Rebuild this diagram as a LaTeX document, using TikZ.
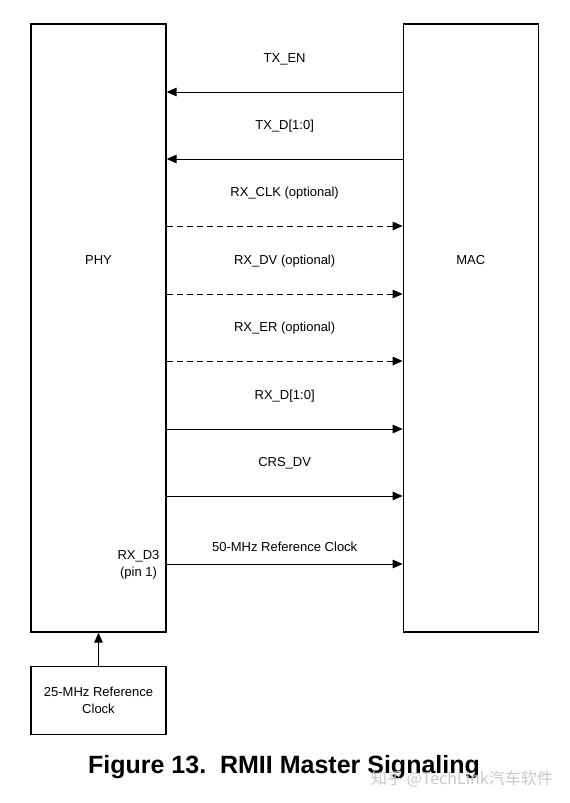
\documentclass[tikz,border=0pt]{standalone}
\usepackage{fontspec}
\setmainfont{Liberation Sans}
\newfontfamily\cjk{Noto Sans CJK SC}
\usetikzlibrary{positioning, arrows.meta}

\begin{document}
\begin{tikzpicture}[
  x=1pt, y=-1pt,
  >={Triangle[length=10pt, width=8.5pt]},
  block/.style = {draw, line width=1.3pt, minimum width=135pt, minimum height=608pt, inner sep=0pt},
  clkbox/.style = {draw, line width=1.3pt, minimum width=135pt, minimum height=68pt, inner sep=0pt, align=center},
  sig/.style   = {->, line width=0.9pt},
  opt/.style   = {sig, dash pattern=on 6pt off 4pt},
  lbl/.style   = {font=\fontsize{13}{16.5}\selectfont, inner sep=0pt},
]
  \useasboundingbox (0,0) rectangle (570,803);

  \node[block]                         (phy)  at (98.5,328) {};
  \node[block, right=236pt of phy]     (mac)  {};
  \node[clkbox, lbl, below=33pt of phy] (clk) {25-MHz Reference\\Clock};

  \node[lbl, below=232pt of phy.north] (phylbl) {PHY};
  \node[lbl, below=232pt of mac.north] (maclbl) {MAC};

  % signal rows
  \coordinate (txen) at (0,92);
  \coordinate (txd)  at (0,159);
  \coordinate (rxclk) at (0,226);
  \coordinate (rxdv) at (0,294);
  \coordinate (rxer) at (0,361);
  \coordinate (rxd)  at (0,429);
  \coordinate (crsdv) at (0,496);
  \coordinate (refclk) at (0,564);

  \draw[sig] (txen -| mac.west)  -- node[lbl, yshift=33pt]{TX\_EN}  (txen -| phy.east);
  \draw[sig] (txd -| mac.west)   -- node[lbl, yshift=32.5pt]{TX\_D[1:0]} (txd -| phy.east);
  \draw[opt] (rxclk -| phy.east) -- node[lbl, yshift=32.5pt]{RX\_CLK (optional)} (rxclk -| mac.west);
  \draw[opt] (rxdv -| phy.east)  -- node[lbl, yshift=32.5pt]{RX\_DV (optional)}  (rxdv -| mac.west);
  \draw[opt] (rxer -| phy.east)  -- node[lbl, yshift=32.5pt]{RX\_ER (optional)}  (rxer -| mac.west);
  \draw[sig] (rxd -| phy.east)   -- node[lbl, yshift=32.5pt]{RX\_D[1:0]} (rxd -| mac.west);
  \draw[sig] (crsdv -| phy.east) -- node[lbl, yshift=32.5pt]{CRS\_DV}    (crsdv -| mac.west);
  \draw[sig] (refclk -| phy.east) -- node[lbl, yshift=17pt]{50-MHz Reference Clock} (refclk -| mac.west);

  \node[lbl, align=center, anchor=east, xshift=-7pt, yshift=-1pt] (pin) at (refclk -| phy.east) {RX\_D3\\(pin 1)};

  \draw[sig] (clk.north) -- (phy.south);

  \node[font=\bfseries\fontsize{25}{28}\selectfont, inner sep=0pt] (cap) at (284,767) {Figure 13.\ \ RMII Master Signaling};
  \node[font=\cjk\fontsize{16}{18}\selectfont, text=black!22, inner sep=0pt] (wm) at (462,779) {知乎 @TechLink汽车软件};
\end{tikzpicture}
\end{document}
